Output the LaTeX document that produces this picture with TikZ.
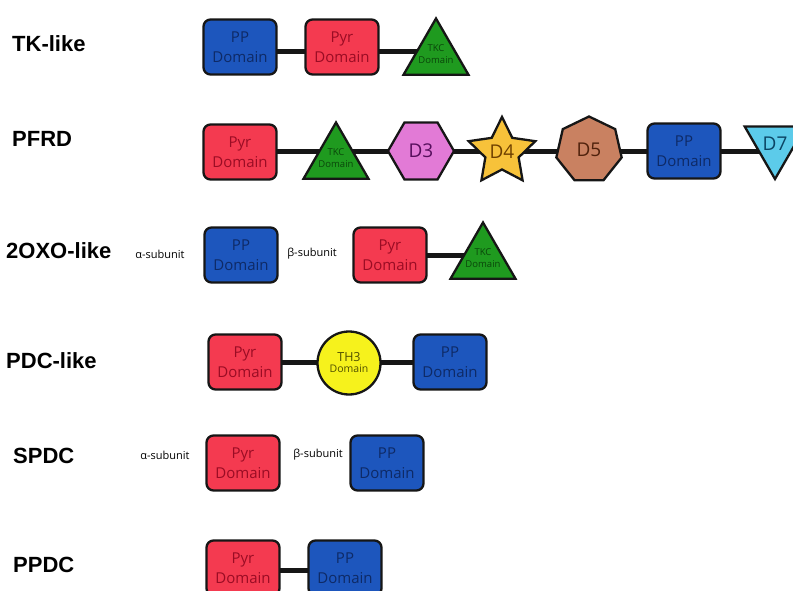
\documentclass[tikz,border=0pt]{standalone}
\usepackage{fontspec}
\setmainfont{Open Sans}
\newfontfamily\rowfont{Liberation Sans}
\usetikzlibrary{shapes.geometric,backgrounds}
\definecolor{bordc}{HTML}{161616}
\definecolor{ppfill}{HTML}{1D56BD}
\definecolor{pptext}{HTML}{0E2A66}
\definecolor{pyrfill}{HTML}{F43A50}
\definecolor{pyrtext}{HTML}{9A0C24}
\definecolor{tkcfill}{HTML}{1F9A1F}
\definecolor{tkctext}{HTML}{0A460A}
\definecolor{dthreefill}{HTML}{E27AD6}
\definecolor{dthreetext}{HTML}{560E5C}
\definecolor{dfourfill}{HTML}{F7C23A}
\definecolor{dfourtext}{HTML}{6E4000}
\definecolor{dfivefill}{HTML}{C98161}
\definecolor{dfivetext}{HTML}{50220C}
\definecolor{dsevenfill}{HTML}{5CCBEA}
\definecolor{dseventext}{HTML}{0B4464}
\definecolor{thfill}{HTML}{F6F21C}
\definecolor{thtext}{HTML}{505000}
\begin{document}
\begin{tikzpicture}[x=1pt,y=-1pt,
  outl/.style={draw=bordc, line width=2.3pt},
  dom/.style={outl, rounded corners=7pt, minimum width=73pt, minimum height=55pt,
    inner sep=0pt, align=center, font=\fontsize{15}{19.5}\selectfont},
  pp/.style={dom, fill=ppfill, text=pptext},
  pyr/.style={dom, fill=pyrfill, text=pyrtext},
  tkc/.style={outl, regular polygon, regular polygon sides=3, minimum size=75pt,
    inner sep=0pt, fill=tkcfill},
  tkctxt/.style={text=tkctext, align=center, inner sep=0pt, font=\fontsize{9.5}{12}\selectfont},
  dlab/.style={inner sep=0pt, font=\fontsize{19}{21}\selectfont},
  hexa/.style={outl, regular polygon, regular polygon sides=6, minimum size=66pt,
    fill=dthreefill, text=dthreetext, dlab},
  starn/.style={outl, star, star points=5, star point ratio=2.0, minimum size=70pt,
    fill=dfourfill, text=dfourtext, dlab},
  hepta/.style={outl, regular polygon, regular polygon sides=7, minimum size=67pt,
    fill=dfivefill, text=dfivetext, dlab},
  invtri/.style={outl, regular polygon, regular polygon sides=3, shape border rotate=180,
    minimum size=70pt, fill=dsevenfill, text=dseventext, dlab},
  thc/.style={outl, circle, minimum size=63pt, inner sep=0pt, fill=thfill, text=thtext, align=center},
  link/.style={draw=bordc, line width=5pt},
  rowlabel/.style={anchor=base west, inner sep=0pt, font=\rowfont\bfseries\fontsize{22}{26}\selectfont},
  subu/.style={inner sep=0pt, text=black, font=\fontsize{11}{12}\selectfont}
]
\useasboundingbox (0,0) rectangle (793,591);

% row labels
\node[rowlabel] (l1) at (12,52) {TK-like};
\node[rowlabel] (l2) at (12,147) {PFRD};
\node[rowlabel] (l3) at (6,258) {2OXO-like};
\node[rowlabel] (l4) at (6,368) {PDC-like};
\node[rowlabel] (l5) at (13,463) {SPDC};
\node[rowlabel] (l6) at (13,572) {PPDC};

% TK-like
\node[pp]  (tk1) at (240,47) {PP\\Domain};
\node[pyr] (tk2) at (342,47) {Pyr\\Domain};
\node[tkc] (tk3) at (436,56) {};
\node[tkctxt] (tk3t) at (436,54) {TKC\\Domain};

% PFRD
\node[pyr]   (pf1) at (240,152) {Pyr\\Domain};
\node[tkc]   (pf2) at (336,160) {};
\node[tkctxt] (pf2t) at (336,158) {TKC\\Domain};
\node[hexa]  (pf3) at (421,151) {D3};
\node[starn] (pf4) at (502,152) {D4};
\node[hepta] (pf5) at (589,150) {D5};
\node[pp]    (pf6) at (684,151) {PP\\Domain};
\node[invtri] (pf7) at (775,144) {D7};

% 2OXO-like
\node[subu] (ox0) at (160,254) {α-subunit};
\node[pp]   (ox1) at (241,255) {PP\\Domain};
\node[subu] (ox2) at (312,254) {β-subunit};
\node[pyr]  (ox3) at (390,255) {Pyr\\Domain};
\node[tkc]  (ox4) at (483,260) {};
\node[tkctxt] (ox4t) at (483,258) {TKC\\Domain};

% PDC-like
\node[pyr] (pd1) at (245,362) {Pyr\\Domain};
\node[thc] (pd2) at (349,363) {\fontsize{12.5}{14}\selectfont TH3\\[-1pt]\fontsize{10.5}{12}\selectfont Domain};
\node[pp]  (pd3) at (450,362) {PP\\Domain};

% SPDC
\node[subu] (sp0) at (165,455) {α-subunit};
\node[pyr]  (sp1) at (243,463) {Pyr\\Domain};
\node[subu] (sp2) at (318,455) {β-subunit};
\node[pp]   (sp3) at (387,463) {PP\\Domain};

% PPDC
\node[pyr] (pc1) at (243,568) {Pyr\\Domain};
\node[pp]  (pc2) at (345,568) {PP\\Domain};

\begin{scope}[on background layer]
  \draw[link] ([yshift=-5pt]tk1.center) -- ([yshift=-5pt]tk2.center);
  \draw[link] ([yshift=-5pt]tk2.center) -- ([yshift=-5pt]tk2.center -| tk3.center);
  \draw[link] (pf1.center) -- (pf1.center -| pf2.center);
  \draw[link] (pf1.center -| pf2.center) -- (pf1.center -| pf3.center);
  \draw[link] (pf1.center -| pf3.center) -- (pf1.center -| pf4.center);
  \draw[link] (pf1.center -| pf4.center) -- (pf1.center -| pf5.center);
  \draw[link] (pf1.center -| pf5.center) -- (pf1.center -| pf6.center);
  \draw[link] (pf1.center -| pf6.center) -- (pf1.center -| pf7.center);
  \draw[link] (ox3.center) -- (ox3.center -| ox4.center);
  \draw[link] (pd1.center) -- (pd1.center -| pd2.center);
  \draw[link] (pd1.center -| pd2.center) -- (pd1.center -| pd3.center);
  \draw[link] ([yshift=-2pt]pc1.center) -- ([yshift=-2pt]pc2.center);
\end{scope}
\end{tikzpicture}
\end{document}
